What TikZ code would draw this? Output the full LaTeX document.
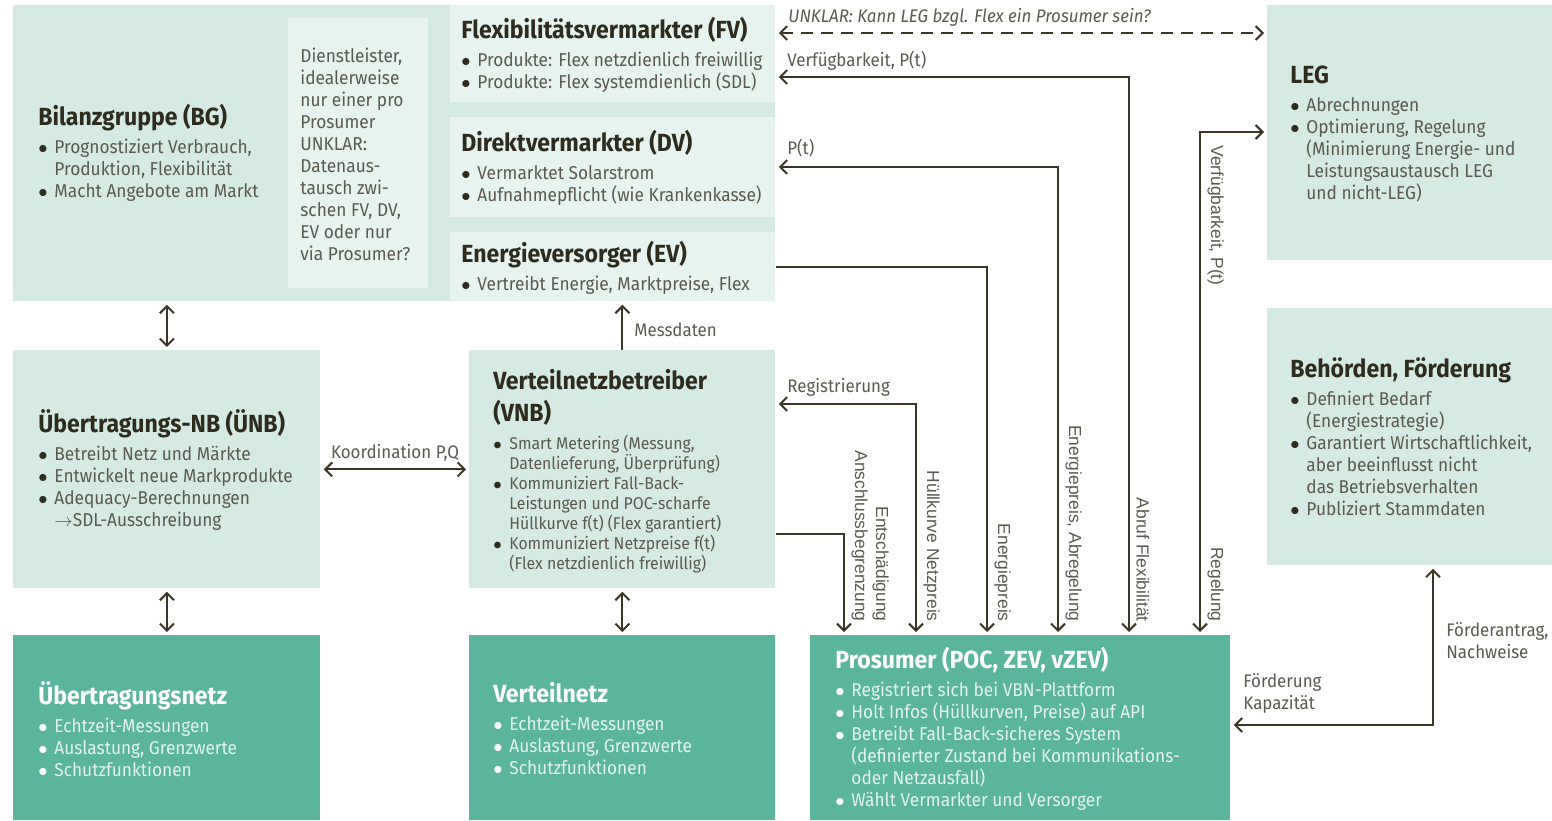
\documentclass[tikz,border=0pt]{standalone}
\usepackage{fontspec}
\setmainfont{Fira Sans}[FakeStretch=0.93]
\newfontfamily\rotfont{Liberation Sans}
\usetikzlibrary{arrows.meta}

\definecolor{bgmint}{HTML}{D4EAE2}
\definecolor{lightmint}{HTML}{E6F3EF}
\definecolor{darkmint}{HTML}{5BB59C}
\definecolor{ink}{HTML}{2E2B1F}
\definecolor{bodygray}{HTML}{5A5A50}
\definecolor{arrowbrown}{HTML}{3B3526}
\definecolor{palewhite}{HTML}{E4F3ED}

\newcommand{\ttl}[1]{{\fontsize{12.4}{14}\selectfont\bfseries #1}}
\newcommand{\bl}{\makebox[8pt][l]{\textcolor{ink}{$\bullet$}}}
\newcommand{\wbl}{\makebox[8pt][l]{\textcolor{white}{$\bullet$}}}
\newcommand{\cont}{\hspace*{8pt}}

\begin{document}
\begin{tikzpicture}[x=0.5pt, y=-0.5pt,
    pbox/.style 2 args={inner sep=0pt, anchor=north west,
      minimum width={#1*0.5pt}, minimum height={#2*0.5pt}},
    txt/.style={inner sep=0pt, anchor=west, align=left, text=bodygray,
      font=\fontsize{9.3}{11}\selectfont},
    wtxt/.style={txt, text=palewhite},
    lbl/.style={inner sep=0pt, text=bodygray, font=\fontsize{9.1}{11}\selectfont},
    rlbl/.style={inner sep=0pt, text=bodygray, rotate=-90, anchor=south east,
      align=right, font=\rotfont\fontsize{8.7}{10.5}\selectfont},
    arr/.style={draw=arrowbrown, line width=1pt, shorten >=1.5pt,
      -{Straight Barb[length=3.5pt,width=7pt]}},
    dblarr/.style={arr, shorten <=1.5pt,
      {Straight Barb[length=3.5pt,width=7pt]}-{Straight Barb[length=3.5pt,width=7pt]}}]
    \useasboundingbox (0,0) rectangle (1552,820);

    % boxes
    \node[pbox={762}{296}, fill=bgmint] (bg) at (13,5) {};
    \node[pbox={140}{270}, fill=lightmint] (dienst) at (288,18) {};
    \node[pbox={325}{97}, fill=lightmint] (fv) at (450,5) {};
    \node[pbox={325}{100}, fill=lightmint] (dv) at (450,117) {};
    \node[pbox={325}{69}, fill=lightmint] (ev) at (450,232) {};
    \node[pbox={285}{255}, fill=bgmint] (leg) at (1267,5) {};
    \node[pbox={285}{257}, fill=bgmint] (beh) at (1267,308) {};
    \node[pbox={307}{238}, fill=bgmint] (uenb) at (13,350) {};
    \node[pbox={306}{238}, fill=bgmint] (vnb) at (469,350) {};
    \node[pbox={307}{185}, fill=darkmint] (uenetz) at (13,635) {};
    \node[pbox={306}{185}, fill=darkmint] (vnetz) at (469,635) {};
    \node[pbox={420}{185}, fill=darkmint] (pros) at (810,635) {};

    % texts
    \node[txt] (bgtext) at (38,153) {\ttl{\textcolor{ink}{Bilanzgruppe (BG)}}\\[3pt]
      \bl Prognostiziert Verbrauch,\\ \cont Produktion, Flexibilität\\
      \bl Macht Angebote am Markt};
    \node[txt] (diensttext) at (300,154) {Dienstleister,\\idealerweise\\nur einer pro\\Prosumer\\
      UNKLAR:\\Datenaus-\\tausch zwi-\\schen FV, DV,\\EV oder nur\\via Prosumer?};
    \node[txt] (fvtext) at (461,55) {\ttl{\textcolor{ink}{Flexibilitätsvermarkter (FV)}}\\[3pt]
      \bl Produkte: Flex netzdienlich freiwillig\\ \bl Produkte: Flex systemdienlich (SDL)};
    \node[txt] (dvtext) at (461,168) {\ttl{\textcolor{ink}{Direktvermarkter (DV)}}\\[3pt]
      \bl Vermarktet Solarstrom\\ \bl Aufnahmepflicht (wie Krankenkasse)};
    \node[txt] (evtext) at (461,268) {\ttl{\textcolor{ink}{Energieversorger (EV)}}\\[3pt]
      \bl Vertreibt Energie, Marktpreise, Flex};
    \node[txt] (legtext) at (1290,134) {\ttl{\textcolor{ink}{LEG}}\\[3pt]
      \bl Abrechnungen\\ \bl Optimierung, Regelung\\ \cont (Minimierung Energie- und\\
      \cont Leistungsaustausch LEG\\ \cont und nicht-LEG)};
    \node[txt] (behtext) at (1290,437) {\ttl{\textcolor{ink}{Behörden, Förderung}}\\[3pt]
      \bl Definiert Bedarf\\ \cont (Energiestrategie)\\ \bl Garantiert Wirtschaftlichkeit,\\
      \cont aber beeinflusst nicht\\ \cont das Betriebsverhalten\\ \bl Publiziert Stammdaten};
    \node[txt] (uenbtext) at (38,470) {\ttl{\textcolor{ink}{Übertragungs-NB (ÜNB)}}\\[3pt]
      \bl Betreibt Netz und Märkte\\ \bl Entwickelt neue Markprodukte\\
      \bl Adequacy-Berechnungen\\ \cont $\rightarrow$SDL-Ausschreibung};
    \node[txt, font=\fontsize{8.5}{10}\selectfont] (vnbtext) at (493,471)
      {\ttl{\textcolor{ink}{Verteilnetzbetreiber}}\\[4pt] \ttl{\textcolor{ink}{(VNB)}}\\[4pt]
      \bl Smart Metering (Messung,\\ \cont Datenlieferung, Überprüfung)\\
      \bl Kommuniziert Fall-Back-\\ \cont Leistungen und POC-scharfe\\
      \cont Hüllkurve f(t) (Flex garantiert)\\ \bl Kommuniziert Netzpreise f(t)\\
      \cont (Flex netzdienlich freiwillig)};
    \node[wtxt] (uenetztext) at (38,729) {\ttl{\textcolor{white}{Übertragungsnetz}}\\[3pt]
      \wbl Echtzeit-Messungen\\ \wbl Auslastung, Grenzwerte\\ \wbl Schutzfunktionen};
    \node[wtxt] (vnetztext) at (493,729) {\ttl{\textcolor{white}{Verteilnetz}}\\[3pt]
      \wbl Echtzeit-Messungen\\ \wbl Auslastung, Grenzwerte\\ \wbl Schutzfunktionen};
    \node[wtxt] (prostext) at (835,729) {\ttl{\textcolor{white}{Prosumer (POC, ZEV, vZEV)}}\\[3pt]
      \wbl Registriert sich bei VBN-Plattform\\ \wbl Holt Infos (Hüllkurven, Preise) auf API\\
      \wbl Betreibt Fall-Back-sicheres System\\ \cont (definierter Zustand bei Kommunikations-\\
      \cont oder Netzausfall)\\ \wbl Wählt Vermarkter und Versorger};

    % corner points of the connectors
    \coordinate (kdash) at (1000,33);
    \coordinate (kfv) at (1129,77);
    \coordinate (kdv) at (1058,167);
    \coordinate (kev) at (987,267);
    \coordinate (kleg) at (1200,132);
    \coordinate (kreg) at (916,404);
    \coordinate (kans) at (844,534);
    \coordinate (kfoe) at (1433,725);

    % connectors
    \draw[dblarr] (uenb.north |- bg.south) -- (uenb.north);
    \draw[dblarr] (uenb.south) -- (uenetz.north);
    \draw[dblarr] (vnb.south) -- (vnetz.north);
    \draw[arr] (vnb.north) -- (vnb.north |- ev.south);
    \draw[dblarr] (uenb.east) -- (vnb.west);
    \draw[dblarr, dash pattern=on 6pt off 4pt] (fv.east |- kdash) -- (leg.west |- kdash);
    \draw[dblarr] (fv.east |- kfv) -| (pros.north -| kfv);
    \draw[dblarr] (dv.east |- kdv) -| (pros.north -| kdv);
    \draw[arr] (ev.east |- kev) -| (pros.north -| kev);
    \draw[dblarr] (leg.west |- kleg) -| (pros.north -| kleg);
    \draw[dblarr] (vnb.east |- kreg) -| (pros.north -| kreg);
    \draw[arr] (vnb.east |- kans) -| (pros.north -| kans);
    \draw[dblarr] (beh.south -| kfoe) |- (pros.east |- kfoe);

    % connector labels
    \node[lbl, anchor=base west, font=\fontsize{9.1}{11}\selectfont\itshape] (unklar) at (788,22)
      {UNKLAR: Kann LEG bzgl. Flex ein Prosumer sein?};
    \node[lbl, anchor=base west] (verf) at (787,66) {Verfügbarkeit, P(t)};
    \node[lbl, anchor=base west] (pt) at (787,154) {P(t)};
    \node[lbl, anchor=base west] (regi) at (787,392) {Registrierung};
    \node[lbl, anchor=base west] (mess) at (634,336) {Messdaten};
    \node[lbl, anchor=base] (koord) at (395,458) {Koordination P,Q};
    \node[lbl, anchor=north west, align=left] (foerd) at (1243,673) {Förderung\\Kapazität};
    \node[lbl, anchor=north west, align=left] (antrag) at (1446,622) {Förderantrag,\\Nachweise};
    \node[rlbl, anchor=south west] (verfleg) at (1207,145) {Verfügbarkeit, P(t)};
    \node[rlbl] (regel) at (1207,622) {Regelung};
    \node[rlbl] (abruf) at (1136,622) {Abruf Flexibilität};
    \node[rlbl] (abreg) at (1065,622) {Energiepreis, Abregelung};
    \node[rlbl] (epreis) at (994,622) {Energiepreis};
    \node[rlbl] (huell) at (923,622) {Hüllkurve Netzpreis};
    \node[rlbl] (entsch) at (851,622) {Entschädigung\\Anschlussbegrenzung};
\end{tikzpicture}
\end{document}
